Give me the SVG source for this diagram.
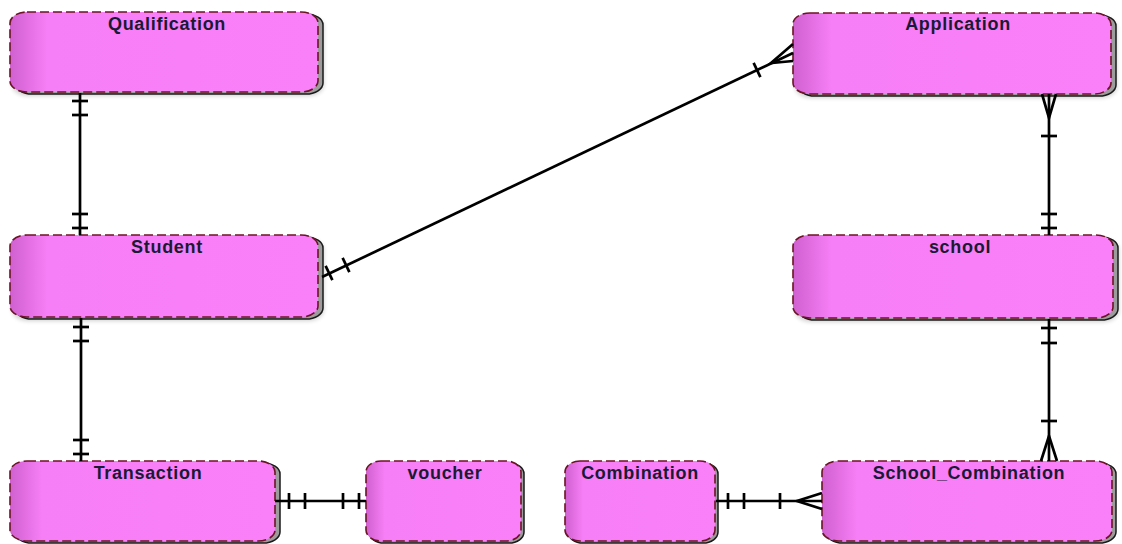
<svg xmlns="http://www.w3.org/2000/svg" width="1122" height="544" viewBox="0 0 1122 544">
<defs>
<linearGradient id="fillG" x1="0" y1="0" x2="1" y2="0">
<stop offset="0" stop-color="#d060d0"/>
<stop offset="0.12" stop-color="#f67ef6"/>
<stop offset="1" stop-color="#fa80fa"/>
</linearGradient>
<filter id="blur" x="-10%" y="-10%" width="130%" height="140%">
<feGaussianBlur stdDeviation="2"/>
</filter>
</defs>
<style>
.sh{fill:#9c9c9c;stroke:#1a1a1a;stroke-width:1.5}
.soft{fill:#000;opacity:0.18;filter:url(#blur)}
.bx{fill:url(#fillG);stroke:#6b1424;stroke-width:1.6;stroke-dasharray:9 4}
.t{font-family:"Liberation Sans",Arial,sans-serif;font-size:18px;font-weight:bold;fill:#1a1a34;text-anchor:middle;letter-spacing:0.7px}
.c line,.c path{stroke:#000;stroke-width:2.7;fill:none}
</style>
<rect width="1122" height="544" fill="#fff"/>

<g id="Qualification">
<rect class="soft" x="12" y="16" width="312" height="80" rx="17" ry="11"/>
<rect class="sh" x="15" y="14" width="308" height="80" rx="17" ry="11"/>
<rect class="bx" x="10" y="12" width="308" height="80" rx="17" ry="11"/>
<text class="t" x="167" y="30">Qualification</text>
</g>

<g id="Application">
<rect class="soft" x="795" y="17" width="322" height="81" rx="17" ry="11"/>
<rect class="sh" x="798" y="15" width="318" height="81" rx="17" ry="11"/>
<rect class="bx" x="793" y="13" width="318" height="81" rx="17" ry="11"/>
<text class="t" x="958" y="30">Application</text>
</g>

<g id="Student">
<rect class="soft" x="12" y="239" width="312" height="82" rx="17" ry="11"/>
<rect class="sh" x="15" y="237" width="308" height="82" rx="17" ry="11"/>
<rect class="bx" x="10" y="235" width="308" height="82" rx="17" ry="11"/>
<text class="t" x="167" y="253">Student</text>
</g>

<g id="school">
<rect class="soft" x="795" y="239" width="324" height="83" rx="17" ry="11"/>
<rect class="sh" x="798" y="237" width="320" height="83" rx="17" ry="11"/>
<rect class="bx" x="793" y="235" width="320" height="83" rx="17" ry="11"/>
<text class="t" x="960" y="253">school</text>
</g>

<g id="Transaction">
<rect class="sh" x="15" y="463" width="265" height="80" rx="17" ry="11"/>
<rect class="bx" x="10" y="461" width="265" height="80" rx="17" ry="11"/>
<text class="t" x="148" y="479">Transaction</text>
</g>

<g id="voucher">
<rect class="sh" x="369" y="463" width="155" height="80" rx="15" ry="11"/>
<rect class="bx" x="366" y="461" width="155" height="80" rx="15" ry="11"/>
<text class="t" x="445" y="479">voucher</text>
</g>

<g id="Combination">
<rect class="sh" x="568" y="463" width="150" height="80" rx="15" ry="11"/>
<rect class="bx" x="565" y="461" width="150" height="80" rx="15" ry="11"/>
<text class="t" x="640" y="479">Combination</text>
</g>

<g id="School_Combination">
<rect class="sh" x="826" y="463" width="290" height="80" rx="17" ry="11"/>
<rect class="bx" x="822" y="461" width="290" height="80" rx="17" ry="11"/>
<text class="t" x="969" y="479">School_Combination</text>
</g>

<g id="connectors" class="c">
<!-- Qualification - Student -->
<line x1="80" y1="93" x2="80" y2="235"/>
<line x1="72" y1="101" x2="88" y2="101"/>
<line x1="72" y1="115" x2="88" y2="115"/>
<line x1="72" y1="214" x2="88" y2="214"/>
<line x1="72" y1="228" x2="88" y2="228"/>
<!-- Student - Transaction -->
<line x1="81" y1="318" x2="81" y2="461"/>
<line x1="73" y1="327" x2="89" y2="327"/>
<line x1="73" y1="341" x2="89" y2="341"/>
<line x1="73" y1="440" x2="89" y2="440"/>
<line x1="73" y1="454" x2="89" y2="454"/>
<!-- Student - Application -->
<line x1="322" y1="277" x2="793" y2="53"/>
<line x1="325.6" y1="265.8" x2="332.4" y2="280.2"/>
<line x1="342.6" y1="257.8" x2="349.4" y2="272.2"/>
<line x1="753.6" y1="62.8" x2="760.4" y2="77.2"/>
<path d="M793,44 L771,63 L793,61"/>
<!-- Application - school -->
<line x1="1049" y1="94" x2="1049" y2="235"/>
<path d="M1042,94 L1049,118 L1056,94"/>
<line x1="1041" y1="136" x2="1057" y2="136"/>
<line x1="1041" y1="214" x2="1057" y2="214"/>
<line x1="1041" y1="228" x2="1057" y2="228"/>
<!-- school - School_Combination -->
<line x1="1049" y1="319" x2="1049" y2="461"/>
<line x1="1041" y1="328" x2="1057" y2="328"/>
<line x1="1041" y1="343" x2="1057" y2="343"/>
<line x1="1041" y1="421" x2="1057" y2="421"/>
<path d="M1041,461 L1049,436 L1057,461"/>
<!-- Transaction - voucher -->
<line x1="275" y1="501" x2="366" y2="501"/>
<line x1="289" y1="493" x2="289" y2="509"/>
<line x1="305" y1="493" x2="305" y2="509"/>
<line x1="343" y1="493" x2="343" y2="509"/>
<line x1="359" y1="493" x2="359" y2="509"/>
<!-- Combination - School_Combination -->
<line x1="716" y1="501" x2="822" y2="501"/>
<line x1="728" y1="493" x2="728" y2="509"/>
<line x1="744" y1="493" x2="744" y2="509"/>
<line x1="780" y1="493" x2="780" y2="509"/>
<path d="M822,493 L797,501 L822,509"/>
</g>
</svg>
